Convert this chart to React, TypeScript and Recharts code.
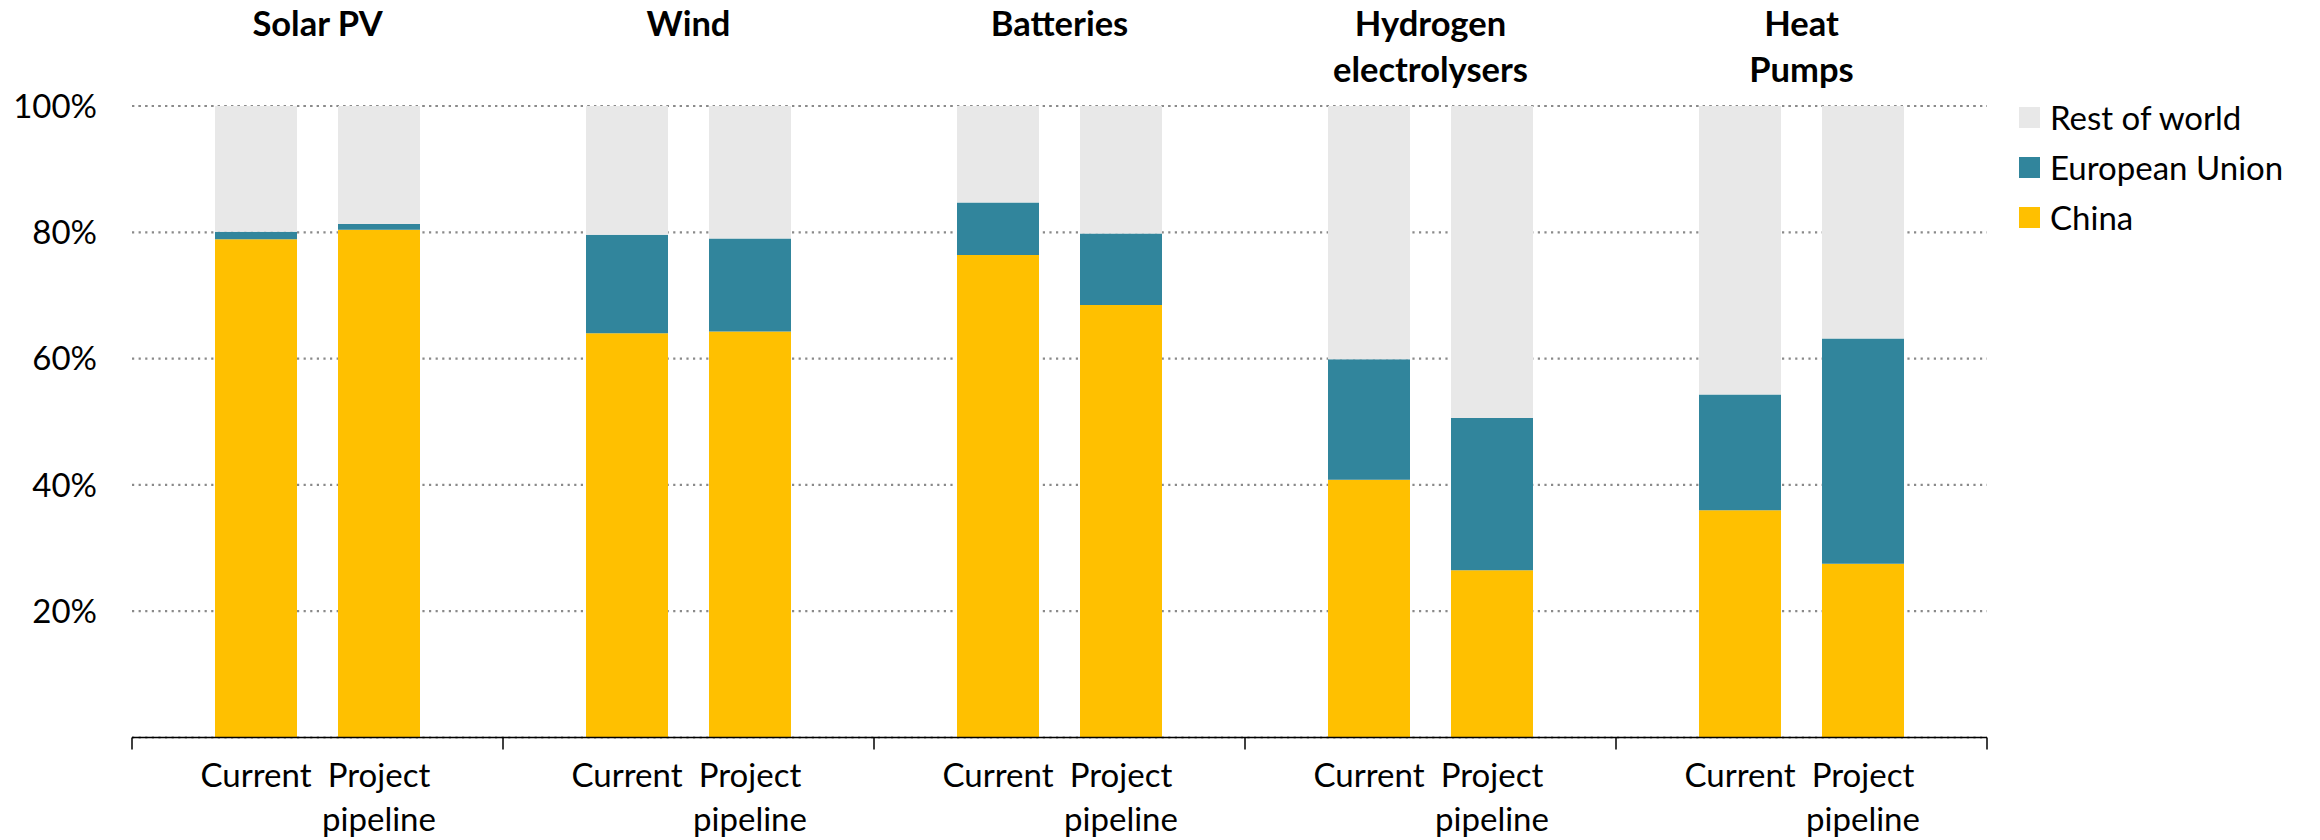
import React from 'react';
import { BarChart, Bar, XAxis, YAxis, CartesianGrid, Legend } from 'recharts';

// ---- data ----
const categories = ['Solar PV', 'Wind', 'Batteries', 'Hydrogen\nelectrolysers', 'Heat\nPumps'];
const barLabels = ['Current', 'Project\npipeline'];

const currentChina = [78.9, 64.0, 76.4, 40.8, 36.0];
const currentEU = [1.2, 15.6, 8.3, 19.1, 18.3];
const currentRest = [19.9, 20.4, 15.3, 40.1, 45.7];

const pipelineChina = [80.4, 64.3, 68.5, 26.5, 27.5];
const pipelineEU = [0.9, 14.7, 11.3, 24.1, 35.7];
const pipelineRest = [18.7, 21.0, 20.2, 49.4, 36.8];

const yTicks = [20, 40, 60, 80, 100];

const seriesNames = { china: 'China', eu: 'European Union', rest: 'Rest of world' };
const legendOrder = [seriesNames.rest, seriesNames.eu, seriesNames.china];
const COLORS = { china: '#FFC000', eu: '#31859C', rest: '#E8E8E8' };

// ---- layout ----
const W = 2320;
const H = 840;
const MARGIN = { top: 0, right: 333, bottom: 0, left: 0 };
const Y_W = 132;
const TOP_H = 106;
const BOT_H = 102.5;
const BAR = 82;
const GAP = 41;
const FONT = 'Lato, "Noto Sans", sans-serif';
const FS = 33;
const TITLE_FS = 34.5;

const data = categories.map((name, i) => ({
  name,
  curChina: currentChina[i],
  curEU: currentEU[i],
  curRest: currentRest[i],
  proChina: pipelineChina[i],
  proEU: pipelineEU[i],
  proRest: pipelineRest[i],
}));

const bandW = (W - MARGIN.left - MARGIN.right - Y_W) / categories.length;

function BottomTick(props: any) {
  const { x, y, index } = props;
  const half = bandW / 2;
  const off = (BAR + GAP) / 2;
  const leftLines = barLabels[0].split('\n');
  const rightLines = barLabels[1].split('\n');
  const txt = { fontFamily: FONT, fontSize: FS, fill: '#000', textAnchor: 'middle' as const };
  return (
    <g>
      <line x1={x - half} x2={x - half} y1={y} y2={y + 12} stroke="#000" strokeWidth={1.5} />
      {index === categories.length - 1 && (
        <line x1={x + half} x2={x + half} y1={y} y2={y + 12} stroke="#000" strokeWidth={1.5} />
      )}
      {leftLines.map((l, i) => (
        <text key={'l' + i} x={x - off} y={y + 49.5 + i * 44} {...txt}>{l}</text>
      ))}
      {rightLines.map((l, i) => (
        <text key={'r' + i} x={x + off} y={y + 49.5 + i * 44} {...txt}>{l}</text>
      ))}
    </g>
  );
}

function TopTick(props: any) {
  const { x, y, payload } = props;
  const lines = String(payload.value).split('\n');
  return (
    <g>
      {lines.map((l, i) => (
        <text key={i} x={x} y={y - 70 + i * 46} textAnchor="middle" fontFamily={FONT} fontSize={TITLE_FS} fontWeight={700} fill="#000">
          {l}
        </text>
      ))}
    </g>
  );
}

function LegendContent(props: any) {
  const payload = props.payload || [];
  const items = legendOrder
    .map((name) => payload.find((p: any) => p.value === name))
    .filter(Boolean);
  return (
    <div style={{ fontFamily: FONT, fontSize: FS, color: '#000' }}>
      {items.map((it: any) => (
        <div key={it.value} style={{ display: 'flex', alignItems: 'center', height: 50 }}>
          <span style={{ width: 21, height: 21, background: it.color, marginRight: 10, display: 'inline-block', flex: 'none' }} />
          <span style={{ lineHeight: 1, whiteSpace: 'nowrap' }}>{it.value}</span>
        </div>
      ))}
    </div>
  );
}

export default function App() {
  return (
    <div style={{ position: 'absolute', left: 0, top: 0, width: W, height: H, background: '#fff', fontFamily: FONT }}>
      <BarChart width={W} height={H} data={data} margin={MARGIN} barSize={BAR} barGap={GAP}>
        <CartesianGrid vertical={false} stroke="#8a8a8a" strokeWidth={2.2} strokeDasharray="2.2 4.4" />
        <XAxis
          xAxisId="top"
          orientation="top"
          dataKey="name"
          height={TOP_H}
          axisLine={false}
          tickLine={false}
          tickSize={0}
          tickMargin={0}
          interval={0}
          tick={<TopTick />}
        />
        <XAxis
          dataKey="name"
          height={BOT_H}
          axisLine={{ stroke: '#000', strokeWidth: 1.5 }}
          tickLine={false}
          tickSize={0}
          tickMargin={0}
          interval={0}
          tick={<BottomTick />}
        />
        <YAxis
          type="number"
          domain={[0, 100]}
          ticks={yTicks}
          width={Y_W}
          axisLine={false}
          tickLine={false}
          tickSize={0}
          tickMargin={35}
          interval={0}
          tick={{ fill: '#000', fontSize: FS, fontFamily: FONT }}
          tickFormatter={(v: number) => `${v}%`}
        />
        <Legend
          layout="horizontal"
          align="center"
          verticalAlign="middle"
          content={<LegendContent />}
          wrapperStyle={{ left: 2019, top: 92, width: 300, height: 150 }}
        />
        <Bar dataKey="curChina" name={seriesNames.china} stackId="cur" fill={COLORS.china} isAnimationActive={false} />
        <Bar dataKey="curEU" name={seriesNames.eu} stackId="cur" fill={COLORS.eu} isAnimationActive={false} />
        <Bar dataKey="curRest" name={seriesNames.rest} stackId="cur" fill={COLORS.rest} isAnimationActive={false} />
        <Bar dataKey="proChina" name={seriesNames.china} stackId="pro" fill={COLORS.china} legendType="none" isAnimationActive={false} />
        <Bar dataKey="proEU" name={seriesNames.eu} stackId="pro" fill={COLORS.eu} legendType="none" isAnimationActive={false} />
        <Bar dataKey="proRest" name={seriesNames.rest} stackId="pro" fill={COLORS.rest} legendType="none" isAnimationActive={false} />
      </BarChart>
    </div>
  );
}
